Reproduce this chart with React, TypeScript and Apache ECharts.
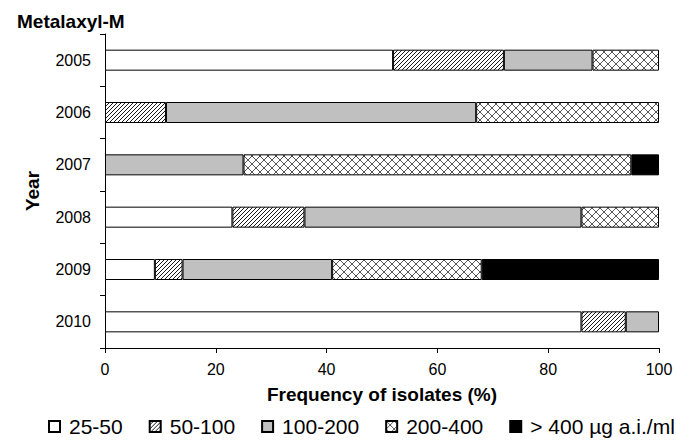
import React, { useEffect, useRef } from "react";
import * as echarts from "echarts";

const years = ["2005", "2006", "2007", "2008", "2009", "2010"];
const seriesNames = ["25-50", "50-100", "100-200", "200-400", "> 400 µg a.i./ml"];
const s25_50 = [52, null, null, 23, 9, 86];
const s50_100 = [20, 11, null, 13, 5, 8];
const s100_200 = [16, 56, 25, 50, 27, 6];
const s200_400 = [12, 33, 70, 14, 27, null];
const s400 = [null, null, 5, null, 32, null];
const xTicks = { min: 0, max: 100, interval: 20 };

function makeHatch(): HTMLCanvasElement {
  const s = 4;
  const c = document.createElement("canvas");
  c.width = s;
  c.height = s;
  const ctx = c.getContext("2d")!;
  ctx.fillStyle = "#ffffff";
  ctx.fillRect(0, 0, s, s);
  ctx.strokeStyle = "#000000";
  ctx.lineWidth = 0.9;
  ctx.beginPath();
  ctx.moveTo(-1, s + 1);
  ctx.lineTo(s + 1, -1);
  ctx.moveTo(-1, 1);
  ctx.lineTo(1, -1);
  ctx.moveTo(s - 1, s + 1);
  ctx.lineTo(s + 1, s - 1);
  ctx.stroke();
  return c;
}

function makeCross(): HTMLCanvasElement {
  const s = 8;
  const c = document.createElement("canvas");
  c.width = s;
  c.height = s;
  const ctx = c.getContext("2d")!;
  ctx.fillStyle = "#ffffff";
  ctx.fillRect(0, 0, s, s);
  ctx.strokeStyle = "#555555";
  ctx.lineWidth = 1;
  ctx.beginPath();
  ctx.moveTo(0, 0);
  ctx.lineTo(s, s);
  ctx.moveTo(0, s);
  ctx.lineTo(s, 0);
  ctx.stroke();
  return c;
}

export default function App() {
  const ref = useRef<HTMLDivElement>(null);
  useEffect(() => {
    document.body.style.margin = "0";
    const chart = echarts.init(ref.current!, null, { renderer: "svg" });
    const font = "Liberation Sans, Arial, sans-serif";
    const fills: any[] = [
      "#ffffff",
      { image: makeHatch(), repeat: "repeat" },
      "#c0c0c0",
      { image: makeCross(), repeat: "repeat" },
      "#000000",
    ];
    const datas = [s25_50, s50_100, s100_200, s200_400, s400];
    chart.setOption({
      animation: false,
      title: {
        text: "Metalaxyl-M",
        left: 17,
        top: 12,
        padding: 0,
        textStyle: { fontFamily: font, fontSize: 19, fontWeight: "bold", color: "#000" },
      },
      grid: { left: 105, right: 17, top: 34, bottom: 93 },
      legend: {
        left: 48,
        top: 416,
        width: 640,
        padding: 0,
        icon: "rect",
        itemWidth: 11,
        itemHeight: 11,
        itemGap: 26,
        data: seriesNames,
        textStyle: { fontFamily: font, fontSize: 21, color: "#000", padding: [0, 0, 0, 4] },
      },
      xAxis: {
        type: "value",
        min: xTicks.min,
        max: xTicks.max,
        interval: xTicks.interval,
        name: "Frequency of isolates (%)",
        nameLocation: "middle",
        nameGap: 37,
        nameTextStyle: { fontFamily: font, fontSize: 19, fontWeight: "bold", color: "#000" },
        axisLine: { show: true, lineStyle: { color: "#000", width: 1 } },
        axisTick: { show: true, length: 5, lineStyle: { color: "#000" } },
        axisLabel: { fontFamily: font, fontSize: 16, color: "#000", margin: 13 },
        splitLine: { show: false },
      },
      yAxis: {
        type: "category",
        inverse: true,
        data: years,
        name: "Year",
        nameLocation: "middle",
        nameGap: 63,
        nameRotate: 90,
        nameTextStyle: { fontFamily: font, fontSize: 19, fontWeight: "bold", color: "#000" },
        axisLine: { show: true, lineStyle: { color: "#000", width: 1 } },
        axisTick: { show: true, length: 5, lineStyle: { color: "#000" } },
        axisLabel: { fontFamily: font, fontSize: 16, color: "#000", margin: 14 },
      },
      series: seriesNames.map((name, i) => ({
        name,
        type: "bar",
        stack: "total",
        barWidth: 21,
        data: datas[i],
        itemStyle: { color: fills[i], borderColor: "#000", borderWidth: 1 },
        emphasis: { disabled: true },
      })),
    });
    return () => chart.dispose();
  }, []);
  return <div ref={ref} style={{ width: 676, height: 441 }} />;
}
